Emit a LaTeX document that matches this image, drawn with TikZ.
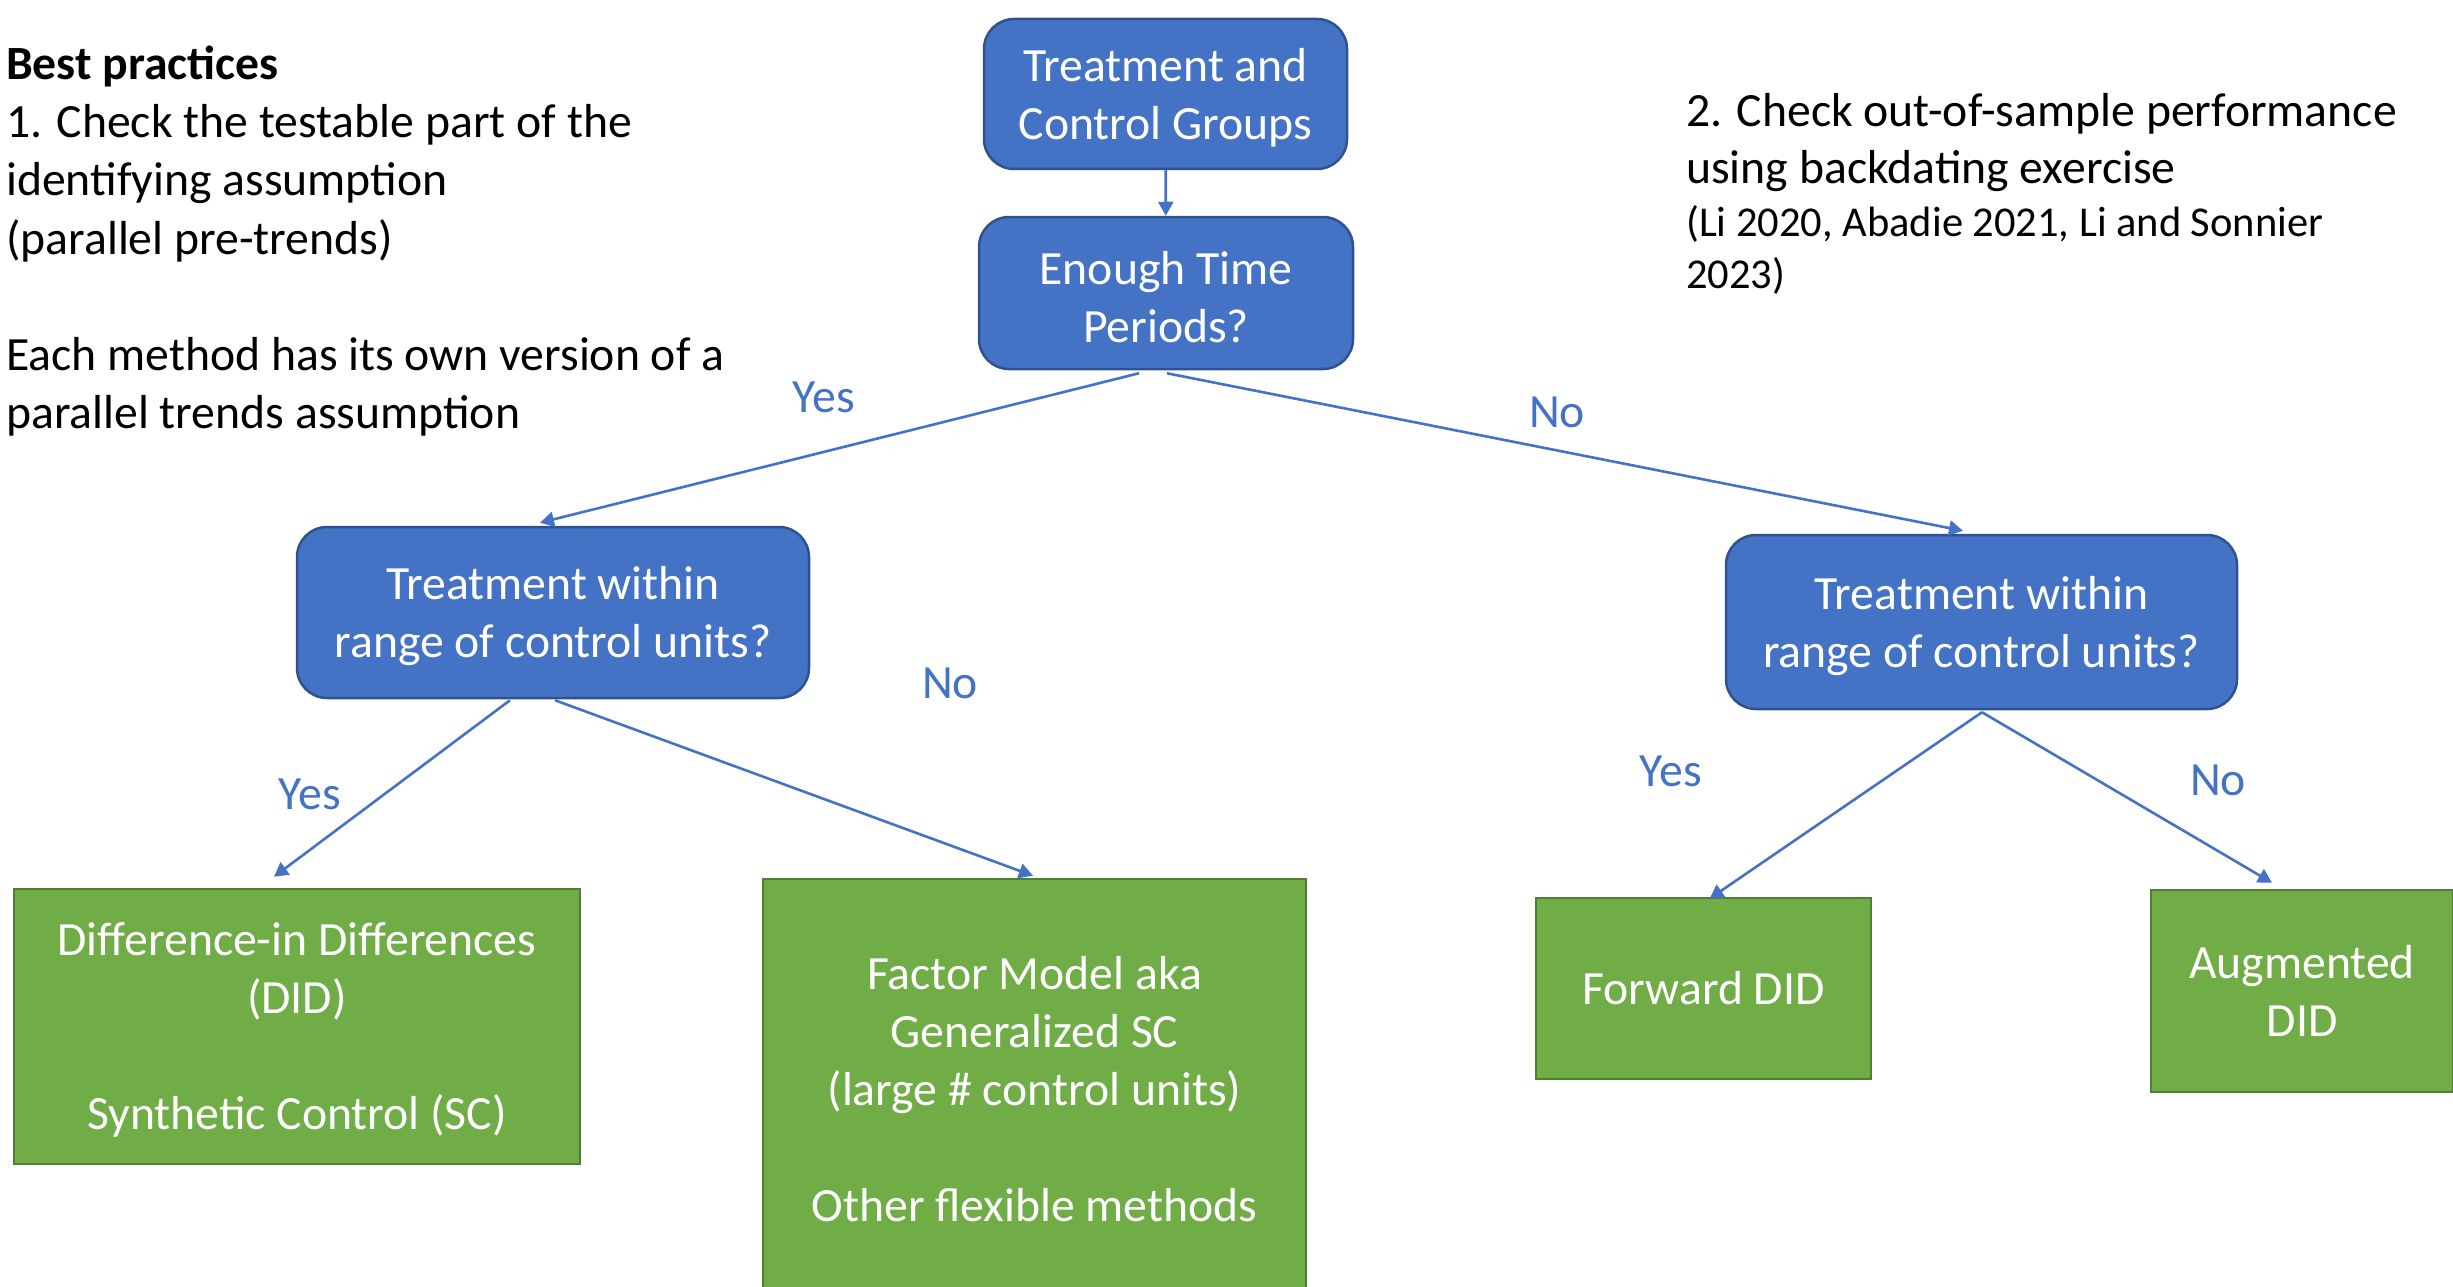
\documentclass[tikz,border=0pt]{standalone}
\usepackage{fontspec}
\setmainfont{Carlito}
\usetikzlibrary{arrows.meta}
\definecolor{boxblue}{HTML}{4472C4}
\definecolor{boxblueedge}{HTML}{2F528F}
\definecolor{boxgreen}{HTML}{70AD47}
\definecolor{boxgreenedge}{HTML}{507E32}

\begin{document}
\begin{tikzpicture}[x=1pt,y=-1pt,
  bigfont/.style={font=\fontsize{47.7}{58}\selectfont},
  qbox/.style={draw=boxblueedge, fill=boxblue, line width=2.5pt, rounded corners=30pt,
    text=white, align=center, bigfont, inner sep=0pt},
  mbox/.style={draw=boxgreenedge, fill=boxgreen, line width=2.5pt,
    text=white, align=center, bigfont, inner sep=0pt},
  arr/.style={draw=boxblue, line width=2.6pt, -{Triangle[length=14pt,width=15pt]}},
  ans/.style={text=boxblue, bigfont, inner sep=0pt},
  note/.style={anchor=base west, bigfont, inner sep=0pt},
  cite/.style={anchor=base west, font=\fontsize{42.5}{52}\selectfont, inner sep=0pt}]

\useasboundingbox (0,0) rectangle (2453,1287);
\clip (0,0) rectangle (2453,1287);

% side notes
\node[note] (bp)  at (6,80)  {\bfseries Best practices};
\node[note] (n1a) at (6,138) {1. Check the testable part of the};
\node[note] (n1b) at (6,196) {identifying assumption};
\node[note] (n1c) at (6,254) {(parallel pre-trends)};
\node[note] (n2a) at (6,370) {Each method has its own version of a};
\node[note] (n2b) at (6,428) {parallel trends assumption};

\node[note] (r1) at (1686,127)   {2. Check out-of-sample performance};
\node[note] (r2) at (1686,183.5) {using backdating exercise};
\node[cite] (r3) at (1686,236)   {(Li 2020, Abadie 2021, Li and Sonnier};
\node[cite] (r4) at (1686,288)   {2023)};

% decision boxes
\node[qbox, minimum width=363pt, minimum height=150pt] (top) at (1165.5,94)
  {\strut Treatment and\\Control Groups};
\node[qbox, minimum width=374pt, minimum height=152pt] (enough) at (1166,293)
  {\strut Enough Time\\Periods?};
\node[qbox, minimum width=512pt, minimum height=171pt] (lq) at (553,612.5)
  {\strut Treatment within\\range of control units?};
\node[qbox, minimum width=511pt, minimum height=174pt] (rq) at (1981.5,622)
  {\strut Treatment within\\range of control units?};

% method boxes
\node[mbox, minimum width=566pt, minimum height=275pt] (did) at (297,1026.5)
  {\strut Difference-in Differences\\(DID)\\[58pt]Synthetic Control (SC)};
\node[mbox, minimum width=543pt, minimum height=412pt] (fm) at (1034.5,1085)
  {\strut Factor Model aka\\Generalized SC\\(large \# control units)\\[58pt]Other flexible methods};
\node[mbox, minimum width=335pt, minimum height=181pt] (fwd) at (1703.5,988.5)
  {Forward DID};
\node[mbox, minimum width=302pt, minimum height=202pt] (aug) at (2302,991)
  {Augmented\\DID};

% connectors
\draw[arr] (top) -- (enough);
\draw[arr] ([xshift=-27pt,yshift=-3pt]enough.south) -- ([xshift=-13pt,yshift=3pt]lq.north);
\draw[arr] ([xshift=1pt,yshift=-3pt]enough.south) -- ([xshift=-18.5pt,yshift=3pt]rq.north);
\draw[arr] ([xshift=-43pt,yshift=-1pt]lq.south) -- ([xshift=-23pt,yshift=11pt]did.north);
\draw[arr] ([xshift=2pt,yshift=-1pt]lq.south) -- ([xshift=-1.5pt,yshift=2pt]fm.north);
\draw[arr] ([xshift=0.5pt,yshift=-2pt]rq.south) -- ([xshift=6pt,yshift=-2pt]fwd.north);
\draw[arr] ([xshift=0.5pt,yshift=-2pt]rq.south) -- ([xshift=-30pt,yshift=6pt]aug.north);

% branch labels
\node[ans] (y1) at (824,397) {Yes};
\node[ans] (n1) at (1557,412) {No};
\node[ans] (y2) at (310,794) {Yes};
\node[ans] (n2) at (950,683) {No};
\node[ans] (y3) at (1671,771) {Yes};
\node[ans] (n3) at (2218,780) {No};
\end{tikzpicture}
\end{document}
